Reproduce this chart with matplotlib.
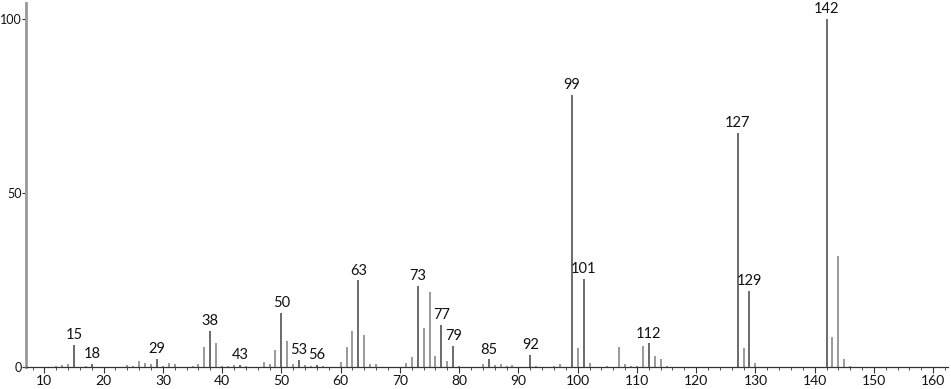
import numpy as np
import matplotlib.pyplot as plt
from matplotlib.ticker import MultipleLocator

# m/z values and relative intensities
mz = [12, 13, 14, 15, 17, 18, 24, 25, 26, 27, 28, 29, 30, 31, 32, 35, 36, 37, 38, 39,
      40, 41, 42, 43, 44, 47, 48, 49, 50, 51, 52, 53, 54, 55, 56, 57, 60, 61, 62, 63,
      64, 65, 66, 71, 72, 73, 74, 75, 76, 77, 78, 79, 80, 84, 85, 86, 87, 88, 89, 92,
      93, 96, 97, 99, 100, 101, 102, 105, 107, 108, 109, 110, 111, 112, 113, 114, 115,
      127, 128, 129, 130, 142, 143, 144, 145, 146]
intensity = [0.4, 0.6, 0.8, 6.3, 0.4, 0.8, 0.5, 0.4, 1.7, 1.2, 0.9, 2.3, 0.4, 1.2, 0.9, 0.4, 1.0, 5.8, 10.4, 6.8,
             0.4, 0.4, 0.5, 0.6, 0.4, 1.3, 1.0, 4.8, 15.5, 7.4, 1.0, 2.1, 0.5, 0.4, 0.6, 0.3, 1.3, 5.7, 10.4, 24.9,
             9.3, 1.0, 0.8, 1.2, 3.0, 23.4, 11.2, 21.6, 3.3, 12.0, 1.7, 6.1, 0.4, 1.0, 2.2, 0.6, 0.8, 0.4, 0.5, 3.4,
             0.3, 0.4, 0.9, 78.2, 5.6, 25.3, 1.2, 0.4, 5.8, 0.9, 0.4, 0.4, 6.1, 6.8, 3.1, 2.4, 0.4,
             67.2, 5.4, 21.9, 1.2, 100.0, 8.6, 31.8, 2.4, 0.4]

labeled = [15, 18, 29, 38, 43, 50, 53, 56, 63, 73, 77, 79, 85, 92, 99, 101, 112, 127, 129, 142]

plt.rcParams['font.family'] = ['Lato', 'DejaVu Sans']

fig = plt.figure(figsize=(9.51, 3.89), dpi=100)
ax = fig.add_axes([26/951, 22/389, (948-26)/951, (386-22)/389])

for m, h in zip(mz, intensity):
    col = '#6a6a6a' if m in labeled else '#9a9a9a'
    ax.vlines(m, 0, h, color=col, linewidth=1.4)

for m in labeled:
    h = intensity[mz.index(m)]
    ax.annotate(str(m), (m, h), xytext=(0, 2), textcoords='offset points',
                ha='center', va='bottom', fontsize=10.5, color='#111111')

ax.set_xlim(6.9, 162.5)
ax.set_ylim(0, 104.6)
ax.xaxis.set_major_locator(MultipleLocator(10))
ax.xaxis.set_minor_locator(MultipleLocator(2))
ax.set_yticks([0, 50, 100])
ax.tick_params(axis='x', which='major', length=4, width=0.8, labelsize=10, pad=2, color='#333333', labelcolor='#111111')
ax.tick_params(axis='x', which='minor', length=2, width=0.6, color='#333333')
ax.tick_params(axis='y', length=3, width=0.8, labelsize=9, pad=0.3, color='#333333', labelcolor='#111111')

for s in ['top', 'right']:
    ax.spines[s].set_visible(False)
ax.spines['left'].set_color('#999999')
ax.spines['left'].set_linewidth(2)
ax.spines['bottom'].set_color('#333333')
ax.spines['bottom'].set_linewidth(0.9)

fig.savefig('out.png', dpi=100)
